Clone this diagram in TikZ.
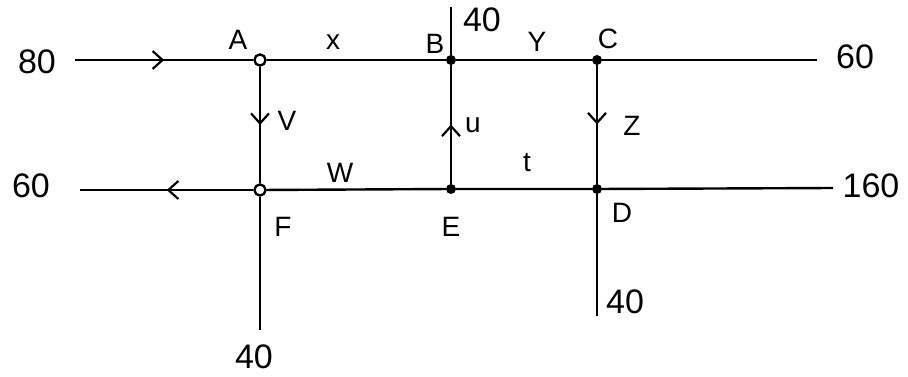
\documentclass[tikz,border=0pt]{standalone}
\usepackage{fontspec}
\setmainfont{Liberation Sans}
\usetikzlibrary{arrows.meta,decorations.markings}
\begin{document}
\begin{tikzpicture}[x=1pt,y=-1pt,
  pipe/.style={line width=2.4pt},
  midarrow/.style={pipe,decoration={markings,mark=at position 0.5 with {\arrow{Straight Barb[length=10pt,width=18pt,line width=2.2pt]}}},postaction={decorate}},
  openpt/.style={circle,draw,line width=2.2pt,fill=white,inner sep=0pt,minimum size=11pt},
  dotpt/.style={circle,fill=black,inner sep=0pt,minimum size=10pt},
  lbl/.style={font=\fontsize{28}{30}\selectfont,inner sep=0pt},
  num/.style={font=\fontsize{34}{36}\selectfont,inner sep=0pt}]
\useasboundingbox (0,0) rectangle (908,377);
% end points
\coordinate (in80) at (75,60);
\coordinate (out60) at (817,60);
\coordinate (top40) at (451,7);
\coordinate (out160) at (833,188);
\coordinate (out60b) at (80,190);
\coordinate (F40) at (260,330);
\coordinate (D40) at (597,316);
% junctions
\node[openpt] (A) at (260,60) {};
\node[dotpt] (B) at (451,60) {};
\node[dotpt] (C) at (597,60) {};
\node[openpt] (F) at (260,190) {};
\node[dotpt] (E) at (451,189) {};
\node[dotpt] (D) at (597,189) {};
% connectors
\draw[midarrow] (in80) -- (A);
\draw[pipe] (A) -- (B) -- (C) -- (out60);
\draw[pipe] (top40) -- (B);
\draw[midarrow] (A) -- (F);
\draw[midarrow] (E) -- (B);
\draw[midarrow] (C) -- (D);
\draw[midarrow] (F) -- (out60b);
\draw[pipe] (F) -- (E) -- (D) -- (out160);
\draw[pipe] (F) -- (F40);
\draw[pipe] (D) -- (D40);
% redraw junctions on top
\node[openpt] at (A) {};
\node[openpt] at (F) {};
% labels
\node[num] (l80) at (37,62) {80};
\node[lbl] (lA) at (238,40) {A};
\node[lbl] (lx) at (333,42) {x};
\node[lbl] (lB) at (435,44) {B};
\node[lbl] (lY) at (537,42) {Y};
\node[lbl] (lC) at (608,39) {C};
\node[num] (l40t) at (482,20) {40};
\node[num] (l60r) at (855,57) {60};
\node[lbl] (lV) at (287,121) {V};
\node[lbl] (lu) at (473,125) {u};
\node[lbl] (lZ) at (632,126) {Z};
\node[num] (l60l) at (31,186) {60};
\node[lbl] (lW) at (340,173) {W};
\node[lbl] (lt) at (527,163) {t};
\node[num] (l160) at (871,186) {160};
\node[lbl] (lF) at (283,227) {F};
\node[lbl] (lE) at (451,227) {E};
\node[lbl] (lD) at (622,213) {D};
\node[num] (l40b) at (254,357) {40};
\node[num] (l40d) at (625,302) {40};
\end{tikzpicture}
\end{document}
